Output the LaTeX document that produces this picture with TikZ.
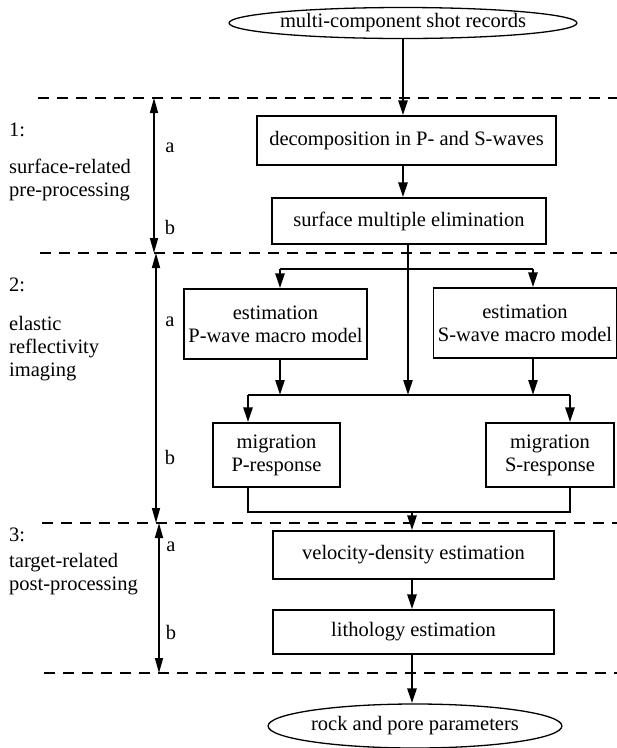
\documentclass[tikz,border=0pt]{standalone}
\usepackage{fontspec}
\setmainfont{Liberation Serif}
\usetikzlibrary{arrows.meta,shapes.geometric}
\begin{document}
\begin{tikzpicture}[x=1pt,y=-1pt,
  txt/.style={font=\fontsize{20.5}{23}\selectfont},
  box/.style={txt, draw, line width=1.3pt, align=center, inner sep=0pt},
  oval/.style={txt, draw, ellipse, line width=1.3pt, inner sep=0pt},
  flow/.style={line width=2.6pt},
  flowarr/.style={flow, -{Triangle[length=15pt,width=9pt]}},
  span/.style={line width=1.5pt, {Triangle[length=15pt,width=8pt]}-{Triangle[length=15pt,width=8pt]}},
  sep/.style={line width=1.2pt, dash pattern=on 11pt off 8pt},
  lbl/.style={txt, anchor=west, align=left, inner sep=0pt},
  ab/.style={txt, inner sep=0pt}]
\useasboundingbox (0,0) rectangle (617,748);

% separators
\coordinate (s1l) at (38,98);  \coordinate (s1r) at (617,98);
\coordinate (s2l) at (40,253); \coordinate (s2r) at (617,253);
\coordinate (s3l) at (42,523); \coordinate (s3r) at (617,523);
\coordinate (s4l) at (44,673); \coordinate (s4r) at (617,673);
\draw[sep] (s1l) -- (s1r);
\draw[sep] (s2l) -- (s2r);
\draw[sep] (s3l) -- (s3r);
\draw[sep] (s4l) -- (s4r);

% left spans
\coordinate (a1t) at (154,98);  \coordinate (a1b) at (154,253);
\coordinate (a2t) at (156,253); \coordinate (a2b) at (156,523);
\coordinate (a3t) at (159,523); \coordinate (a3b) at (159,673);
\draw[span] (a1t) -- (a1b);
\draw[span] (a2t) -- (a2b);
\draw[span] (a3t) -- (a3b);

\node[ab] (l1a) at (170,148) {a};
\node[ab] (l1b) at (170,227) {b};
\node[ab] (l2a) at (170,322) {a};
\node[ab] (l2b) at (170,457) {b};
\node[ab] (l3a) at (171,547) {a};
\node[ab] (l3b) at (171,632) {b};

\node[lbl] (n1) at (9,130) {1:};
\node[lbl] (t1) at (9,180) {surface-related\\pre-processing};
\node[lbl] (n2) at (9,285) {2:};
\node[lbl] (t2) at (9,349) {elastic\\reflectivity\\imaging};
\node[lbl] (n3) at (9,535) {3:};
\node[lbl] (t3) at (9,574) {target-related\\post-processing};

% flow nodes
\node[oval, minimum width=287pt, minimum height=31pt] (src) at (403,23) {multi-component shot records};
\node[box, minimum width=299pt, minimum height=49pt] (dec) at (406.5,140.5) {decomposition in P- and S-waves};
\node[box, minimum width=274pt, minimum height=46pt] (sme) at (409,221) {surface multiple elimination};
\node[box, minimum width=183pt, minimum height=70pt] (estP) at (275.5,324) {estimation\\P-wave macro model};
\node[box, minimum width=183pt, minimum height=70pt] (estS) at (525,323) {estimation\\S-wave macro model};
\node[box, minimum width=127pt, minimum height=64pt] (migP) at (276.5,455) {migration\\P-response};
\node[box, minimum width=128pt, minimum height=64pt] (migS) at (550,455) {migration\\S-response};
\node[box, minimum width=281pt, minimum height=48pt] (vel) at (413.5,555) {velocity-density estimation};
\node[box, minimum width=281pt, minimum height=44pt] (lith) at (413.5,632) {lithology estimation};
\node[oval, minimum width=290pt, minimum height=44pt] (rock) at (415,726) {rock and pore parameters};

% connectors
\draw[flowarr] (src.south) -- (src.south |- dec.north);
\draw[flowarr] (dec.south -| src.south) -- (src.south |- sme.north);

\coordinate (bl) at (280,269);
\coordinate (br) at (533,269);
\coordinate (mv) at (408,395);
\coordinate (ml) at (248,395);
\coordinate (mr) at (570,395);
\coordinate (jl) at (248,512);
\coordinate (jr) at (570,512);
\coordinate (jc) at (412,512);

\draw[flowarr] (sme.south -| mv) -- (mv);
\draw[flow] (bl) -- (br);
\draw[flowarr] (bl) -- (bl |- estP.north);
\draw[flowarr] (br) -- (br |- estS.north);
\draw[flowarr] (estP.south -| bl) -- (bl |- mv);
\draw[flowarr] (estS.south -| br) -- (br |- mv);
\draw[flow] (ml) -- (mr);
\draw[flowarr] (ml) -- (ml |- migP.north);
\draw[flowarr] (mr) -- (mr |- migS.north);
\draw[flow] (migP.south -| jl) -- (jl) -- (jr) -- (migS.south -| jr);
\draw[flowarr] (jc) -- (jc |- vel.north);
\draw[flowarr] (vel.south -| jc) -- (jc |- lith.north);
\draw[flowarr] (lith.south -| jc) -- (jc |- rock.north);
\end{tikzpicture}
\end{document}
